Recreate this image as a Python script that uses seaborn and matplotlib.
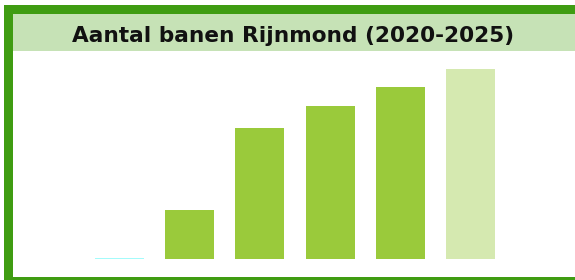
import matplotlib
matplotlib.use("Agg")
import matplotlib.pyplot as plt
import seaborn as sns
import pandas as pd
from matplotlib.patches import Rectangle

years = ["2020", "2021", "2022", "2023", "2024", "2025"]
values = [1, 49, 131, 153, 172, 190]
bar_colors = ["#a4fbfb", "#9aca3b", "#9aca3b", "#9aca3b", "#9aca3b", "#d5e9b0"]
title = "Aantal banen Rijnmond (2020-2025)"

df = pd.DataFrame({"year": years, "value": values})

W, H = 575, 280
fig = plt.figure(figsize=(W / 100, H / 100), dpi=100)
fig.patch.set_facecolor("white")

def px(x0, y0, x1, y1):
    return (x0 / W, 1 - y1 / H, (x1 - x0) / W, (y1 - y0) / H)

border = "#3f9c12"
band = "#c6e2b6"
for (x0, y0, x1, y1, c) in [
    (4, 5, 575, 14, border),
    (4, 5, 13, 280, border),
    (4, 277, 575, 280, border),
    (13, 14, 575, 51, band),
]:
    l, b, w, h = px(x0, y0, x1, y1)
    fig.patches.append(Rectangle((l, b), w, h, transform=fig.transFigure,
                                 facecolor=c, edgecolor="none", zorder=0))

l, b, w, h = px(13, 51, 575, 277)
ax = fig.add_axes([l, b, w, h])
ax.set_facecolor("none")
sns.barplot(data=df, x="year", y="value", hue="year", palette=bar_colors,
            legend=False, width=0.7, ax=ax, linewidth=0, saturation=1)
ax.set_xlim((13 - 119.5) / 70.2, (575 - 119.5) / 70.2)
ax.set_ylim(-18, 208)
ax.axis("off")

fig.text(293 / W, 1 - 42.3 / H, title, ha="center", va="baseline",
         fontsize=15.6, fontweight="bold", family="DejaVu Sans", color="#111111")

fig.savefig("out.png", dpi=100)
